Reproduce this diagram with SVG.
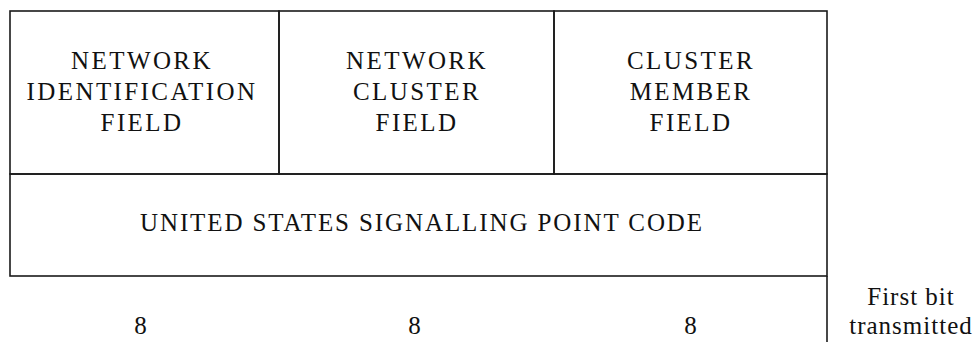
<svg xmlns="http://www.w3.org/2000/svg" width="976" height="342" viewBox="0 0 976 342">
<style>
.ln{stroke:#1a1a1a;stroke-width:1.6;fill:none}
.t{font-family:"Liberation Serif","Times New Roman",serif;font-size:25px;fill:#111;text-anchor:middle;letter-spacing:2.4px}
.u{font-family:"Liberation Serif","Times New Roman",serif;font-size:25px;fill:#111;text-anchor:middle;letter-spacing:1.9px}
.s{font-family:"Liberation Serif","Times New Roman",serif;font-size:25px;fill:#111;text-anchor:middle;letter-spacing:1px}
</style>
<rect width="976" height="342" fill="#fff"/>
<g id="network-id-field">
<rect class="ln" x="10" y="11" width="269" height="163"/>
<text class="t" x="142" y="69">NETWORK</text>
<text class="t" x="142" y="100">IDENTIFICATION</text>
<text class="t" x="142" y="131">FIELD</text>
</g>
<g id="network-cluster-field">
<rect class="ln" x="279" y="11" width="275" height="163"/>
<text class="t" x="417" y="69">NETWORK</text>
<text class="t" x="417" y="100">CLUSTER</text>
<text class="t" x="417" y="131">FIELD</text>
</g>
<g id="cluster-member-field">
<rect class="ln" x="554" y="11" width="273" height="163"/>
<text class="t" x="691" y="69">CLUSTER</text>
<text class="t" x="691" y="100">MEMBER</text>
<text class="t" x="691" y="131">FIELD</text>
</g>
<g id="us-signalling-point-code">
<rect class="ln" x="10" y="174" width="817" height="102"/>
<text class="u" x="422" y="231">UNITED STATES SIGNALLING POINT CODE</text>
</g>
<g id="connectors">
<line class="ln" x1="827" y1="276" x2="827" y2="342"/>
</g>
<g id="bit-counts">
<text class="s" x="141" y="334">8</text>
<text class="s" x="415" y="334">8</text>
<text class="s" x="691" y="334">8</text>
<text class="s" x="911" y="305">First bit</text>
<text class="s" x="911" y="334">transmitted</text>
</g>
</svg>
